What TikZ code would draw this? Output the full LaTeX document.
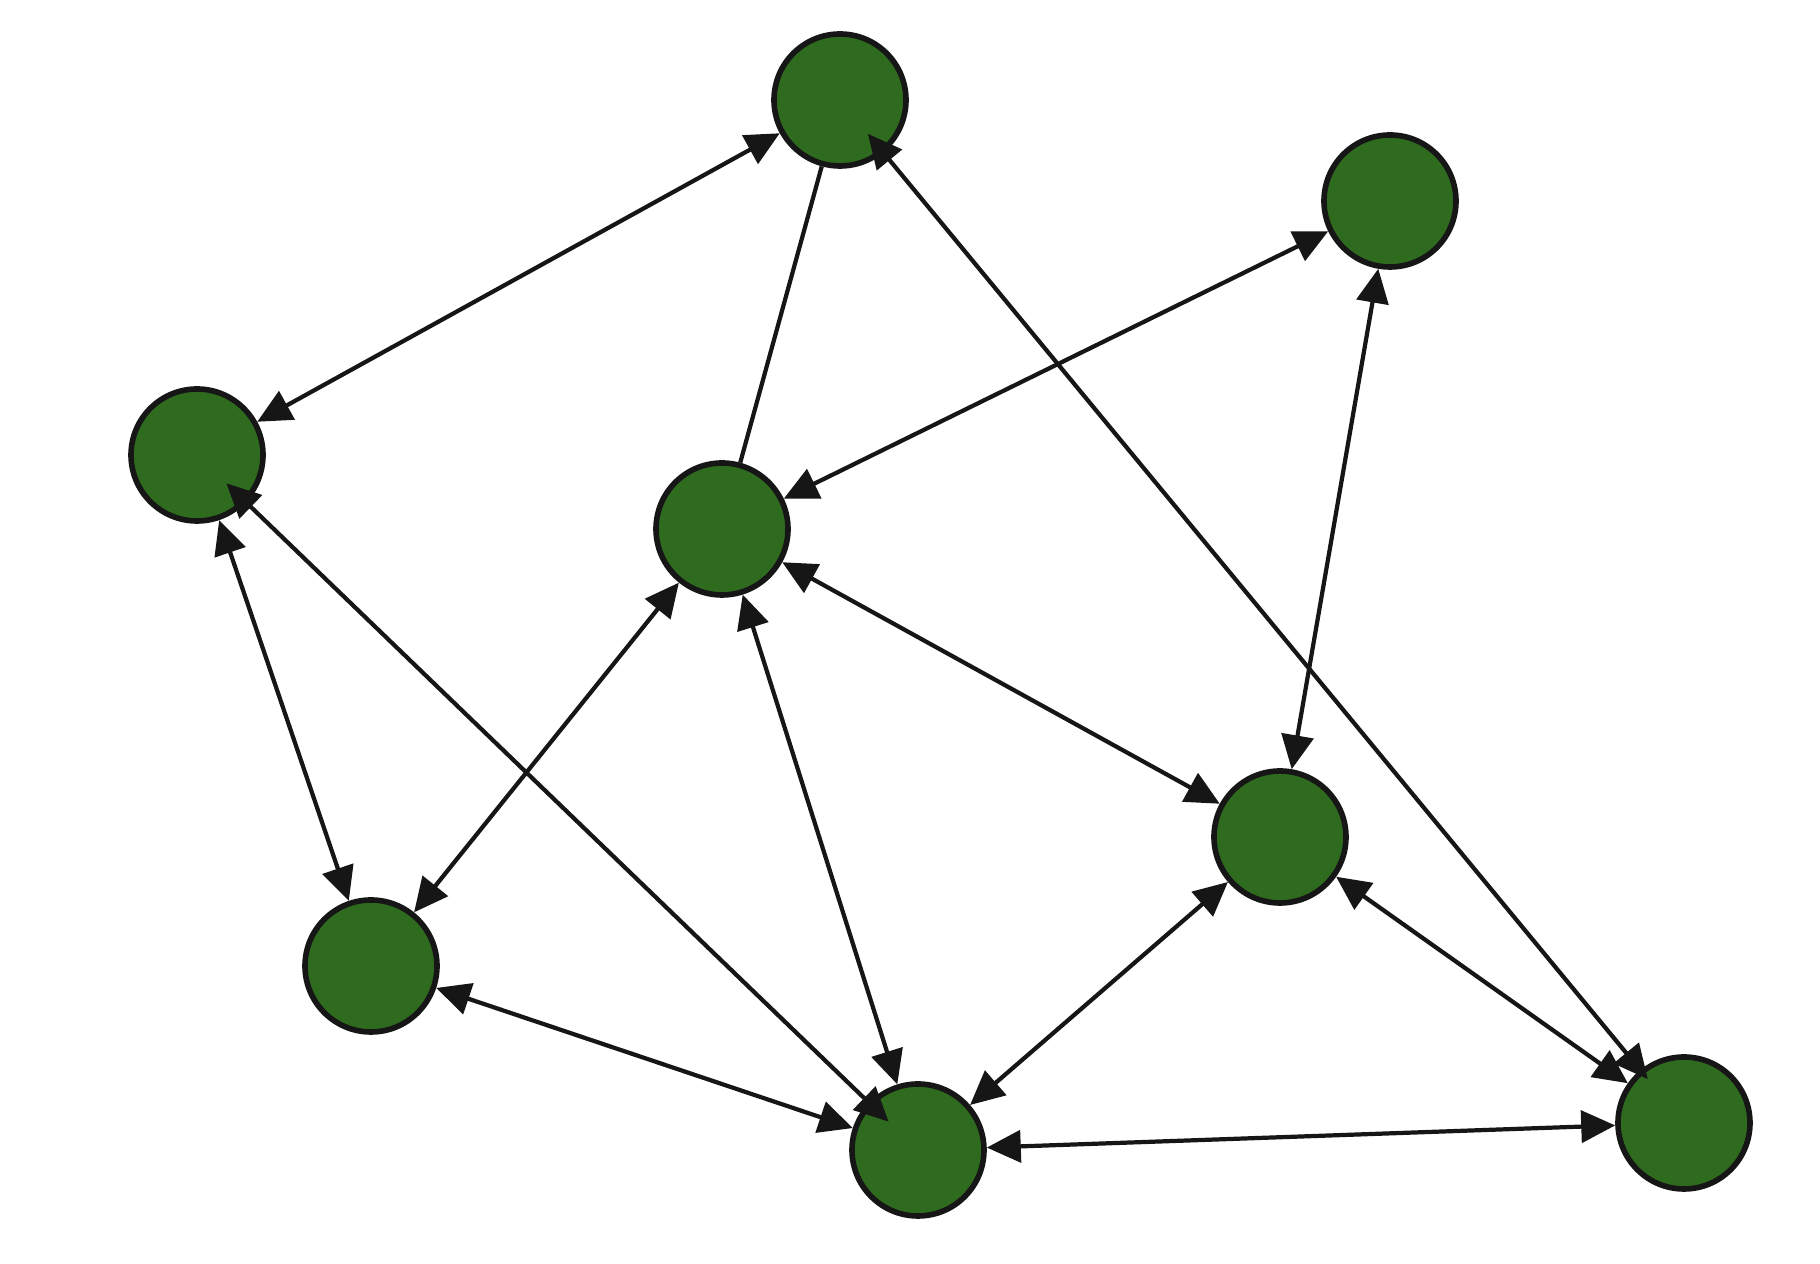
\documentclass[tikz,border=0pt]{standalone}
\usetikzlibrary{arrows.meta}
\definecolor{leaf}{RGB}{47,107,31}
\definecolor{ink}{RGB}{22,22,22}
\begin{document}
\begin{tikzpicture}[
  vert/.style={circle, draw=ink, line width=1.6pt, fill=leaf, minimum size=1.32cm, inner sep=0pt},
  link/.style={draw=ink, line width=1.2pt, {Triangle[length=3.4mm, width=3.2mm]}-{Triangle[length=3.4mm, width=3.2mm]}}]
  \useasboundingbox (0,0) rectangle (18.2,12.64);
  \node[vert] (t) at (8.40,11.64) {};
  \node[vert] (tr) at (13.90,10.63) {};
  \node[vert] (l) at (1.97,8.09) {};
  \node[vert] (c) at (7.22,7.35) {};
  \node[vert] (r) at (12.80,4.27) {};
  \node[vert] (bl) at (3.71,2.98) {};
  \node[vert] (b) at (9.18,1.14) {};
  \node[vert] (br) at (16.84,1.41) {};
  \draw[link] (t) -- (l);
  \draw[draw=ink, line width=1.2pt] (t) -- (c);
  \draw[link, shorten <=-0.25cm, shorten >=-0.12cm] (t) -- (br);
  \draw[link] (tr) -- (c);
  \draw[link] (tr) -- (r);
  \draw[link] (l) -- (bl);
  \draw[link, shorten <=-0.28cm, shorten >=-0.28cm] (l) -- (b);
  \draw[link] (c) -- (bl);
  \draw[link] (c) -- (b);
  \draw[link] (c) -- (r);
  \draw[link] (bl) -- (b);
  \draw[link] (r) -- (b);
  \draw[link] (r) -- (br);
  \draw[link] (b) -- (br);
\end{tikzpicture}
\end{document}
